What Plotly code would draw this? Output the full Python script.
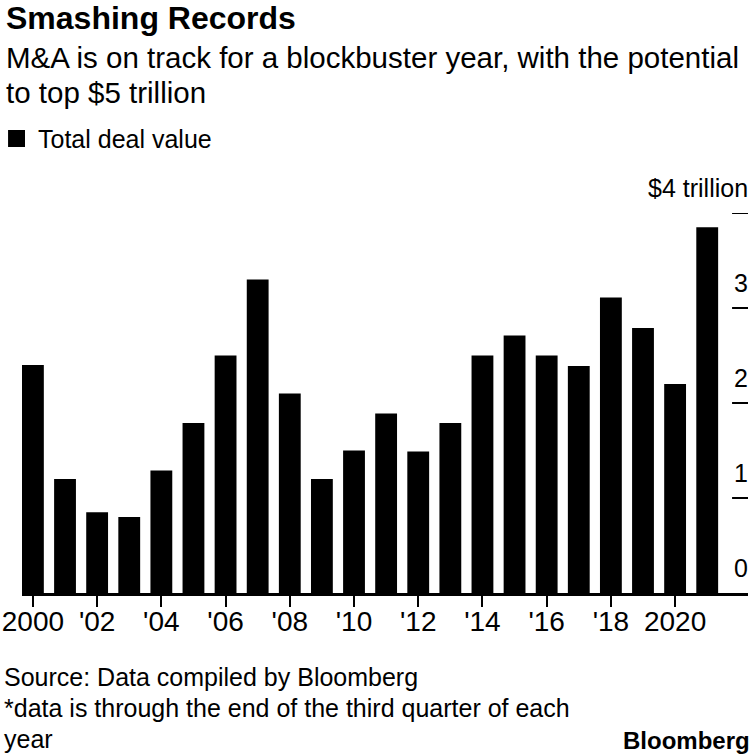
import plotly.graph_objects as go

years = list(range(2000, 2022))
deal_value = [2.40, 1.20, 0.85, 0.80, 1.29, 1.79, 2.50, 3.30, 2.10, 1.20, 1.50,
              1.89, 1.49, 1.79, 2.50, 2.71, 2.50, 2.39, 3.11, 2.79, 2.20, 3.85]

x_tickvals = [2000, 2002, 2004, 2006, 2008, 2010, 2012, 2014, 2016, 2018, 2020]
x_ticktext = ["2000", "'02", "'04", "'06", "'08", "'10", "'12", "'14", "'16", "'18", "2020"]
y_tickvals = [0, 1, 2, 3, 4]
y_ticktext = ["0", "1", "2", "3", "$4 trillion"]

title = "Smashing Records"
subtitle_lines = ["M&A is on track for a blockbuster year, with the potential", "to top $5 trillion"]
legend_label = "Total deal value"
footer_lines = ["Source: Data compiled by Bloomberg",
                "*data is through the end of the third quarter of each",
                "year"]

FONT = "Liberation Sans, Arial, sans-serif"
W, H = 750, 754
L, R, T, B = 19, 2, 213, 161
PW, PH = W - L - R, H - T - B


def px(xp):
    return (xp - L) / PW


def py(yp):
    return (H - B - yp) / PH


fig = go.Figure()
fig.add_trace(go.Bar(x=years, y=deal_value, width=0.68, name=legend_label,
                     marker=dict(color="black", line=dict(width=0)),
                     showlegend=False))

ann = []
ann.append(dict(text=f"<b>{title}</b>", x=px(1), y=py(18), xref="paper", yref="paper",
                xanchor="left", yanchor="middle", showarrow=False,
                font=dict(family=FONT, size=32, color="black")))
for i, line in enumerate(subtitle_lines):
    ann.append(dict(text=line, x=px(1), y=py(57 + 35 * i), xref="paper", yref="paper",
                    xanchor="left", yanchor="middle", showarrow=False,
                    font=dict(family=FONT, size=29.5, color="black")))
ann.append(dict(text=legend_label, x=px(33), y=py(139), xref="paper", yref="paper",
                xanchor="left", yanchor="middle", showarrow=False,
                font=dict(family=FONT, size=25, color="black")))
for i, line in enumerate(footer_lines):
    ann.append(dict(text=line, x=px(-1), y=py(677 + 31 * i), xref="paper", yref="paper",
                    xanchor="left", yanchor="middle", showarrow=False,
                    font=dict(family=FONT, size=25, color="black")))
ann.append(dict(text="<b>Bloomberg</b>", x=px(752), y=py(740), xref="paper", yref="paper",
                xanchor="right", yanchor="middle", showarrow=False,
                font=dict(family=FONT, size=24, color="black")))
for v, t in zip(y_tickvals, y_ticktext):
    ann.append(dict(text=t, x=px(750), y=v, xref="paper", yref="y", xanchor="right",
                    yanchor="middle", yshift=25, showarrow=False,
                    font=dict(family=FONT, size=25, color="black")))

shapes = [dict(type="rect", xref="paper", yref="paper",
               x0=px(5), x1=px(22), y0=py(147), y1=py(130),
               fillcolor="black", line=dict(width=0))]
for v in y_tickvals[1:]:
    shapes.append(dict(type="line", xref="paper", yref="y", x0=px(732), x1=px(748),
                       y0=v, y1=v, line=dict(color="black", width=2)))

fig.update_layout(
    width=W, height=H,
    margin=dict(l=L, r=R, t=T, b=B, pad=0),
    paper_bgcolor="white", plot_bgcolor="white",
    annotations=ann,
    shapes=shapes,
    xaxis=dict(range=[1999.66, 2022.27], tickvals=x_tickvals, ticktext=x_ticktext,
               ticks="outside", ticklen=11, tickwidth=2, tickcolor="black",
               ticklabeloverflow="allow", ticklabelstandoff=-10,
               showline=True, linecolor="black", linewidth=3,
               showgrid=False, zeroline=False,
               tickfont=dict(family=FONT, size=28, color="black")),
    yaxis=dict(range=[0, 4], showticklabels=False, ticks="",
               showline=False, showgrid=False, zeroline=False),
)

fig.write_html(
    "out.html",
    config={"displayModeBar": False},
    post_script="document.body.style.margin='0';document.body.style.padding='0';"
                "document.documentElement.style.overflow='hidden';",
)
